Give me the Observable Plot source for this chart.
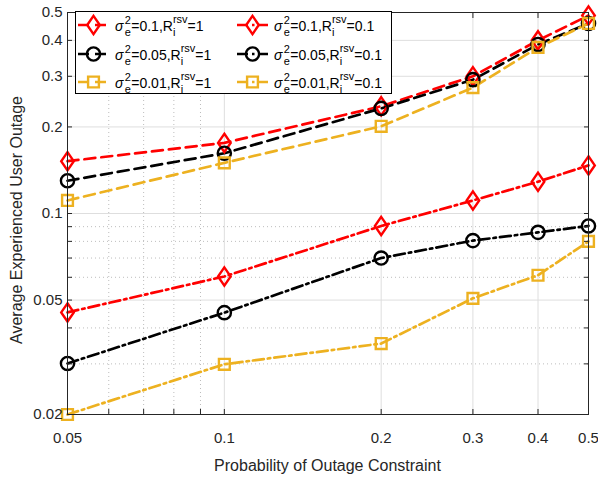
<!DOCTYPE html>
<html><head><meta charset="utf-8">
<script src="https://cdn.jsdelivr.net/npm/d3@7"></script>
<script src="https://cdn.jsdelivr.net/npm/@observablehq/plot@0.6"></script>
<style>
body{margin:0;background:#fff}
svg{font-family:"Liberation Sans",Arial,Helvetica,sans-serif}
</style>
</head><body><div id="chart"></div>
<script>
// ---- data ----
const probs = [0.05, 0.1, 0.2, 0.3, 0.4, 0.5];
const red_R1 = [0.152, 0.176, 0.236, 0.300, 0.400, 0.488];
const black_R1 = [0.130, 0.162, 0.232, 0.292, 0.387, 0.458];
const yellow_R1 = [0.111, 0.150, 0.201, 0.274, 0.378, 0.458];
const red_R01 = [0.0453, 0.0604, 0.0905, 0.111, 0.129, 0.147];
const black_R01 = [0.0301, 0.0452, 0.0700, 0.0805, 0.0860, 0.0905];
const yellow_R01 = [0.0200, 0.0299, 0.0353, 0.0507, 0.0610, 0.0800];
const sigmaLabels = ["0.1", "0.05", "0.01", "0.1", "0.05", "0.01"];
const rsvLabels = ["1", "1", "1", "0.1", "0.1", "0.1"];
const xTickLabels = [0.05, 0.1, 0.2, 0.3, 0.4, 0.5];
const xMinor = [0.06, 0.07, 0.08, 0.09];
const yTickLabels = [0.02, 0.05, 0.1, 0.2, 0.3, 0.4, 0.5];
const yMinor = [0.03, 0.04, 0.06, 0.07, 0.08, 0.09];

// ---- styles ----
const RED = "#FF0000", BLACK = "#000000", YEL = "#EDB120";
const DASH = "11,6", DASHDOT = "11,4,2.5,4";
const diamondSym = {draw(ctx, size){const r=Math.sqrt(size/Math.PI); ctx.moveTo(0,-1.45*r); ctx.lineTo(r,0); ctx.lineTo(0,1.45*r); ctx.lineTo(-r,0); ctx.closePath();}};
const circleSym = {draw(ctx, size){const r=Math.sqrt(size/Math.PI); ctx.moveTo(r,0); ctx.arc(0,0,r,0,2*Math.PI);}};
const squareSym = {draw(ctx, size){const r=Math.sqrt(size/Math.PI); ctx.rect(-r,-r,2*r,2*r);}};

const seriesDefs = [
  {vals: red_R1, color: RED, dash: DASH, sym: diamondSym, r: 6.3},
  {vals: black_R1, color: BLACK, dash: DASH, sym: circleSym, r: 6.6},
  {vals: yellow_R1, color: YEL, dash: DASH, sym: squareSym, r: 5.4},
  {vals: red_R01, color: RED, dash: DASHDOT, sym: diamondSym, r: 6.3},
  {vals: black_R01, color: BLACK, dash: DASHDOT, sym: circleSym, r: 6.6},
  {vals: yellow_R01, color: YEL, dash: DASHDOT, sym: squareSym, r: 5.4}
];

const marks = [
  Plot.ruleX(xTickLabels.slice(1, -1), {stroke: "#dedede", strokeWidth: 1}),
  Plot.ruleX(xMinor, {stroke: "#bdbdbd", strokeWidth: 1, strokeDasharray: "1,3"}),
  Plot.ruleY(yTickLabels.slice(1, -1), {stroke: "#dedede", strokeWidth: 1}),
  Plot.ruleY(yMinor, {stroke: "#bdbdbd", strokeWidth: 1, strokeDasharray: "1,3"})
];
seriesDefs.forEach(s => {
  const data = probs.map((p, i) => ({p, v: s.vals[i]}));
  marks.push(Plot.line(data, {x: "p", y: "v", stroke: s.color, strokeWidth: 2.7, strokeDasharray: s.dash}));
});
seriesDefs.forEach(s => {
  const data = probs.map((p, i) => ({p, v: s.vals[i]}));
  marks.push(Plot.dot(data, {x: "p", y: "v", stroke: s.color, fill: "none", strokeWidth: 2.4, symbol: s.sym, r: s.r}));
});
const allX = xTickLabels.concat(xMinor), allY = yTickLabels.concat(yMinor);
marks.push(
  Plot.frame({stroke: "#262626", strokeWidth: 1}),
  Plot.axisX(xTickLabels, {anchor: "bottom", tickSize: 0, tickPadding: 18, tickFormat: d => String(d), label: null, fontSize: 15}),
  Plot.axisX(allX, {anchor: "bottom", tickSize: -5, tickFormat: () => "", label: null, stroke: "#262626"}),
  Plot.axisX(allX, {anchor: "top", tickSize: -5, tickFormat: () => "", label: null, stroke: "#262626"}),
  Plot.axisY(yTickLabels, {anchor: "left", tickSize: 0, tickPadding: 5, tickFormat: d => String(d), label: null, fontSize: 15}),
  Plot.axisY(allY, {anchor: "left", tickSize: -5, tickFormat: () => "", label: null, stroke: "#262626"}),
  Plot.axisY(allY, {anchor: "right", tickSize: -5, tickFormat: () => "", label: null, stroke: "#262626"})
);

const chart = Plot.plot({
  width: 598, height: 478,
  marginLeft: 67, marginRight: 10, marginTop: 12, marginBottom: 64,
  style: {fontSize: "15px", color: "#262626", background: "#fff", fontFamily: "'Liberation Sans', Arial, sans-serif"},
  x: {type: "log", domain: [0.05, 0.5]},
  y: {type: "log", domain: [0.02, 0.5]},
  marks
});
document.getElementById("chart").appendChild(chart);

const svg = d3.select(chart);
const FONT = "'Liberation Sans', Arial, sans-serif";
svg.append("text").attr("x", 327.5).attr("y", 471).attr("text-anchor", "middle")
  .attr("font-size", 16).attr("fill", "#262626").attr("font-family", FONT)
  .text("Probability of Outage Constraint");
svg.append("text").attr("transform", "translate(22,220) rotate(-90)").attr("text-anchor", "middle")
  .attr("font-size", 16).attr("fill", "#262626").attr("font-family", FONT)
  .text("Average Experienced User Outage");

// ---- legend ----
const canvas = document.createElement("canvas").getContext("2d");
function tw(t, size){ canvas.font = size + "px " + FONT; return canvas.measureText(t).width; }
const lg = svg.append("g").attr("text-anchor", "start");
lg.append("rect").attr("x", 75.5).attr("y", 11.5).attr("width", 316).attr("height", 82)
  .attr("fill", "#fff").attr("stroke", "#000").attr("stroke-width", 1);
const colX = [78, 237], rowY = [25, 54, 82];
seriesDefs.forEach((s, i) => {
  const c = Math.floor(i / 3), r = i % 3;
  const x0 = colX[c], y0 = rowY[r];
  lg.append("line").attr("x1", x0).attr("x2", x0 + 31).attr("y1", y0).attr("y2", y0)
    .attr("stroke", s.color).attr("stroke-width", 2.7).attr("stroke-dasharray", s.dash);
  const p = d3.path(); s.sym.draw(p, Math.PI * s.r * s.r);
  lg.append("path").attr("d", p.toString()).attr("transform", `translate(${x0 + 15.5},${y0})`)
    .attr("fill", "none").attr("stroke", s.color).attr("stroke-width", 2.4);
  // rich text
  let cx = x0 + 37; const base = y0 + 6;
  const g = lg.append("g").attr("font-family", FONT).attr("fill", "#000").attr("text-anchor", "start");
  const put = (t, x, y, size, italic) => g.append("text").attr("x", x).attr("y", y).attr("font-size", size)
    .attr("font-style", italic ? "italic" : null).attr("text-anchor", "start").text(t);
  put("σ", cx, base, 14, true); cx += tw("σ", 14) + 1;
  put("2", cx, base - 7, 11); put("e", cx, base + 5, 11); cx += Math.max(tw("2", 11), tw("e", 11)) + 0.5;
  const mid = "=" + sigmaLabels[i] + ",R";
  put(mid, cx, base, 14); cx += tw(mid, 14);
  put("rsv", cx, base - 8, 11); put("i", cx, base + 5, 11); cx += tw("rsv", 11);
  put("=" + rsvLabels[i], cx, base, 14);
});
</script>
</body></html>
